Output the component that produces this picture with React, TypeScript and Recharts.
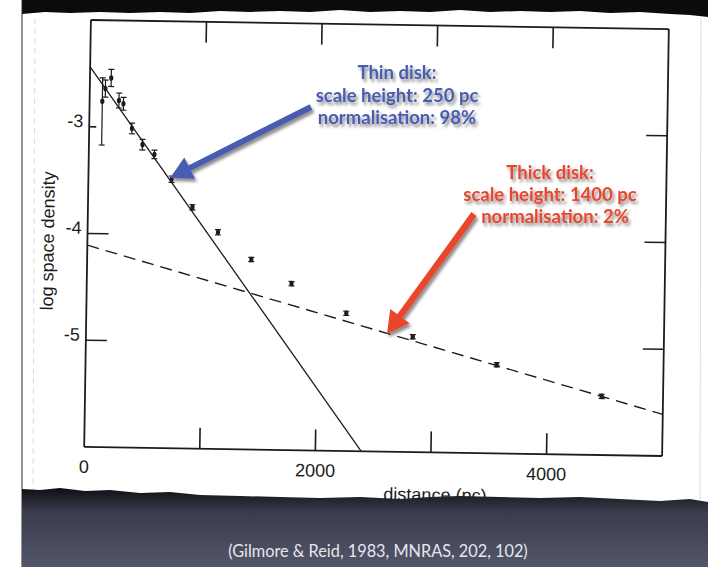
import React from 'react';
import { ScatterChart, Scatter, XAxis, YAxis, ErrorBar } from 'recharts';

// Star counts: log space density against distance, with error bars [below, above]
const distancePc = [110, 135, 184, 254, 293, 370, 463, 568, 720, 904, 1128, 1420, 1771, 2249, 2827, 3557, 4470];
const logSpaceDensity = [-2.76, -2.64, -2.54, -2.75, -2.78, -3.01, -3.16, -3.25, -3.48, -3.74, -3.97, -4.22, -4.44, -4.71, -4.92, -5.17, -5.45];
const errorBelow = [0.41, 0.08, 0.08, 0.07, 0.06, 0.05, 0.05, 0.04, 0.03, 0.025, 0.025, 0.02, 0.02, 0.02, 0.02, 0.02, 0.02];
const errorAbove = [0.22, 0.08, 0.08, 0.07, 0.06, 0.05, 0.05, 0.04, 0.03, 0.025, 0.025, 0.02, 0.02, 0.02, 0.02, 0.02, 0.02];

// Exponential disk models (straight lines in log density)
const thinDiskDistance = [0, 2397];
const thinDiskLogDensity = [-2.44, -6];
const thickDiskDistance = [0, 5000];
const thickDiskLogDensity = [-4.11, -5.61];

// Axes
const xTicks = [0, 1000, 2000, 3000, 4000, 5000];
const xTickLabels = ['0', '', '2000', '', '4000', ''];
const yTicks = [-6, -5, -4, -3, -2];
const yTickLabels = ['', '-5', '-4', '-3', ''];

const X_DOMAIN: [number, number] = [0, 5000];
const Y_DOMAIN: [number, number] = [-6, -2];

const INK = '#1c1c1c';
const SCAN_FONT = '"Liberation Sans", Arial, sans-serif';
const SLIDE_FONT = 'Lato, "Open Sans", sans-serif';
const TICK_LEN = 21;

const isInner = (v: number, d: [number, number]) => v > d[0] && v < d[1];

const BottomTick = (props: any) => {
  const { x, y, payload } = props;
  const i = xTicks.indexOf(payload.value);
  return (
    <g>
      {isInner(payload.value, X_DOMAIN) && (
        <line x1={x} x2={x} y1={y} y2={y - TICK_LEN} stroke={INK} strokeWidth={1.6} />
      )}
      {xTickLabels[i] && (
        <text x={x} y={y + 26} textAnchor="middle" fontSize={18} fontFamily={SCAN_FONT} fill={INK}>
          {xTickLabels[i]}
        </text>
      )}
    </g>
  );
};

const TopTick = (props: any) => {
  const { x, y, payload } = props;
  if (!isInner(payload.value, X_DOMAIN)) return <g />;
  return <line x1={x} x2={x} y1={y} y2={y + TICK_LEN} stroke={INK} strokeWidth={1.6} />;
};

const LeftTick = (props: any) => {
  const { x, y, payload } = props;
  const i = yTicks.indexOf(payload.value);
  const len = payload.value === -3 ? 7 : TICK_LEN;
  return (
    <g>
      {isInner(payload.value, Y_DOMAIN) && (
        <line x1={x} x2={x + len} y1={y} y2={y} stroke={INK} strokeWidth={1.6} />
      )}
      {yTickLabels[i] && (
        <text x={x - 6} y={y + 0.5} textAnchor="end" fontSize={18} fontFamily={SCAN_FONT} fill={INK}>
          {yTickLabels[i]}
        </text>
      )}
    </g>
  );
};

const RightTick = (props: any) => {
  const { x, y, payload } = props;
  if (!isInner(payload.value, Y_DOMAIN)) return <g />;
  return <line x1={x} x2={x - TICK_LEN} y1={y} y2={y} stroke={INK} strokeWidth={1.6} />;
};

const StarDot = (props: any) => {
  const { cx, cy } = props;
  if (cx == null || cy == null) return <g />;
  return <ellipse cx={cx} cy={cy} rx={2.1} ry={2.8} fill={INK} />;
};

const NoMark = () => <g />;

// Arrow outline from a tail point to a tip point
function arrowPath(x1: number, y1: number, x2: number, y2: number, shaft: number, headLen: number, headHalf: number) {
  const dx = x2 - x1;
  const dy = y2 - y1;
  const L = Math.hypot(dx, dy);
  const ux = dx / L;
  const uy = dy / L;
  const nx = -uy;
  const ny = ux;
  const bx = x2 - ux * headLen;
  const by = y2 - uy * headLen;
  const p = (a: number, b: number) => `${a.toFixed(1)},${b.toFixed(1)}`;
  return [
    'M', p(x1 + nx * shaft, y1 + ny * shaft),
    'L', p(bx + nx * shaft, by + ny * shaft),
    'L', p(bx + nx * headHalf, by + ny * headHalf),
    'L', p(x2, y2),
    'L', p(bx - nx * headHalf, by - ny * headHalf),
    'L', p(bx - nx * shaft, by - ny * shaft),
    'L', p(x1 - nx * shaft, y1 - ny * shaft),
    'Z',
  ].join(' ');
}

// Torn paper edges of the scanned page
const TOP_EDGE =
  'M22,0 L708,0 L708,17 L690,15 L670,14 L640,12 L610,13 L580,11 L550,12 L520,11 L490,12 L460,10 L430,12 L400,11 L370,12 L340,10 L310,12 L280,11 L250,12 L220,11 L190,13 L160,12 L130,13 L100,12 L70,13 L45,12 L22,14 Z';
const BOTTOM_EDGE =
  'M22,489 L40,490 L60,488 L85,491 L110,490 L140,493 L170,492 L200,495 L240,496 L280,497 L320,498 L360,497 L400,499 L430,497 L460,496 L500,497 L540,498 L580,497 L620,499 L660,501 L690,499 L708,502 L708,567 L22,567 Z';

export default function App() {
  const stars = distancePc.map((d, i) => ({
    distance: d,
    logDensity: logSpaceDensity[i],
    err: [errorBelow[i], errorAbove[i]],
  }));
  const thinDisk = thinDiskDistance.map((d, i) => ({ distance: d, logDensity: thinDiskLogDensity[i] }));
  const thickDisk = thickDiskDistance.map((d, i) => ({ distance: d, logDensity: thickDiskLogDensity[i] }));

  const axisLine = { stroke: INK, strokeWidth: 1.8 };
  const blue = '#4a5cb0';
  const red = '#e8472f';

  return (
    <div style={{ position: 'absolute', left: 0, top: 0, width: 708, height: 567, overflow: 'hidden', background: '#ffffff' }}>
      <svg width={708} height={567} style={{ position: 'absolute', left: 0, top: 0 }}>
        <path d={TOP_EDGE} fill="#0b0b0d" />
        <line x1={35} y1={18} x2={33} y2={490} stroke="#dcdcdc" strokeWidth={1} strokeDasharray="6 4" />
        <line x1={701} y1={18} x2={700} y2={500} stroke="#dadada" strokeWidth={1} />
        <line x1={22} y1={0} x2={22} y2={567} stroke="#2a2a2a" strokeWidth={1} />
      </svg>

      <div
        style={{
          position: 'absolute', left: 0, top: 0, width: 708, height: 567,
          transform: 'rotate(0.9deg)', transformOrigin: '376.5px 238px',
        }}
      >
        <ScatterChart width={708} height={567} margin={{ top: 0, right: 0, bottom: 0, left: 0 }}>
          <XAxis
            xAxisId="bottom" type="number" dataKey="distance" domain={X_DOMAIN} allowDataOverflow
            ticks={xTicks} interval={0} height={115.5} tickSize={0} tickMargin={0}
            tickLine={false} axisLine={axisLine} tick={<BottomTick />}
          />
          <XAxis
            xAxisId="top" orientation="top" type="number" dataKey="distance" domain={X_DOMAIN} allowDataOverflow
            ticks={xTicks} interval={0} height={24.5} tickSize={0} tickMargin={0}
            tickLine={false} axisLine={axisLine} tick={<TopTick />}
          />
          <YAxis
            yAxisId="left" type="number" dataKey="logDensity" domain={Y_DOMAIN} allowDataOverflow
            ticks={yTicks} interval={0} width={87.5} tickSize={0} tickMargin={0}
            tickLine={false} axisLine={axisLine} tick={<LeftTick />}
          />
          <YAxis
            yAxisId="right" orientation="right" type="number" dataKey="logDensity" domain={Y_DOMAIN} allowDataOverflow
            ticks={yTicks} interval={0} width={42.5} tickSize={0} tickMargin={0}
            tickLine={false} axisLine={axisLine} tick={<RightTick />}
          />
          <Scatter
            xAxisId="bottom" yAxisId="left" data={thinDisk} fill={INK}
            line={{ stroke: INK, strokeWidth: 1.3 }} shape={<NoMark />} isAnimationActive={false}
          />
          <Scatter
            xAxisId="bottom" yAxisId="left" data={thickDisk} fill={INK}
            line={{ stroke: INK, strokeWidth: 1.4, strokeDasharray: '12 7' }} shape={<NoMark />} isAnimationActive={false}
          />
          <Scatter
            xAxisId="bottom" yAxisId="left" data={stars} fill={INK}
            shape={<StarDot />} isAnimationActive={false}
          >
            <ErrorBar dataKey="err" direction="y" width={3} stroke={INK} strokeWidth={1.2} isAnimationActive={false} />
          </Scatter>
        </ScatterChart>
        <svg width={708} height={567} style={{ position: 'absolute', left: 0, top: 0, pointerEvents: 'none' }}>
          <text
            x={48} y={246} transform="rotate(-90 48 246)" textAnchor="middle" dominantBaseline="central"
            fontSize={18} fontFamily={SCAN_FONT} fill={INK}
          >
            log space density
          </text>
          <text x={439} y={500} textAnchor="middle" fontSize={18} fontFamily={SCAN_FONT} fill={INK}>
            distance (pc)
          </text>
        </svg>
      </div>

      <svg width={708} height={567} style={{ position: 'absolute', left: 0, top: 0 }}>
        <defs>
          <linearGradient id="slide" x1="0" y1="488" x2="0" y2="567" gradientUnits="userSpaceOnUse">
            <stop offset="0" stopColor="#0e0e12" />
            <stop offset="0.3" stopColor="#3a3c4c" />
            <stop offset="1" stopColor="#535669" />
          </linearGradient>
          <filter id="shadow" x="-20%" y="-30%" width="140%" height="170%">
            <feDropShadow dx="2" dy="3" stdDeviation="1.8" floodColor="#000" floodOpacity="0.45" />
          </filter>
        </defs>
        <path d={BOTTOM_EDGE} fill="url(#slide)" />
        <text x={378} y={557} textAnchor="middle" fontSize={16.3} fontFamily={SLIDE_FONT} fill="#e6e6ee">
          (Gilmore &amp; Reid, 1983, MNRAS, 202, 102)
        </text>

        <g filter="url(#shadow)">
          <path d={arrowPath(311, 107, 170, 178, 3, 22, 12)} fill={blue} />
          <path d={arrowPath(474, 214, 387, 334, 3.2, 22, 12)} fill={red} />
          <g fontFamily={SLIDE_FONT} fontWeight="bold" fontSize={18.5} textAnchor="middle">
            <text x={397} y={79} fill={blue}>Thin disk:</text>
            <text x={397} y={102} fill={blue}>scale height: 250 pc</text>
            <text x={397} y={124} fill={blue}>normalisation: 98%</text>
            <text x={550} y={179} fill={red}>Thick disk:</text>
            <text x={550} y={201} fill={red}>scale height: 1400 pc</text>
            <text x={555} y={223} fill={red}>normalisation: 2%</text>
          </g>
        </g>
      </svg>
    </div>
  );
}
